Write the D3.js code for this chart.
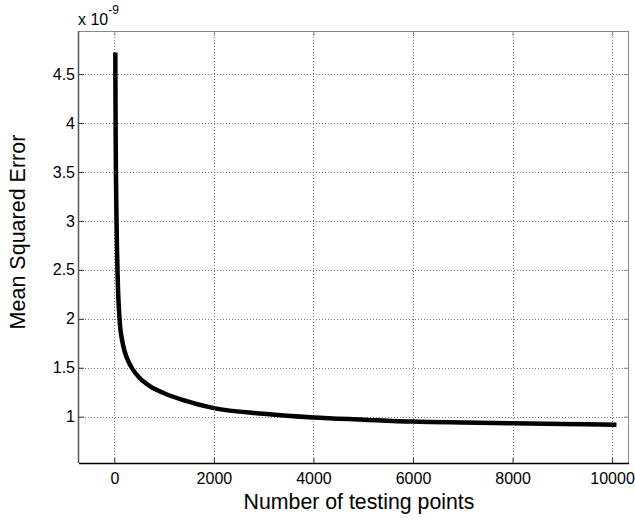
<!DOCTYPE html>
<html>
<head>
<meta charset="utf-8">
<script src="https://cdn.jsdelivr.net/npm/d3@7"></script>
<style>
  html, body { margin: 0; padding: 0; background: #fff; }
  svg { display: block; font-family: Arial, "Liberation Sans", Helvetica, sans-serif; }
</style>
</head>
<body>
<svg id="chart" width="635" height="520"></svg>
<script>
// Data
const testingPoints = [20, 22, 25, 30, 34, 44, 54, 64, 74, 90, 114, 150, 200, 260, 349, 500, 719, 1000, 1386, 2000, 3000, 4000, 5000, 6000, 7000, 8000, 9000, 10088];
const mseValues     = [4.72, 4.4, 4.0, 3.6, 3.4, 3.0, 2.7, 2.48, 2.3, 2.12, 1.93, 1.8, 1.68, 1.59, 1.5, 1.4, 1.31, 1.24, 1.17, 1.088, 1.03, 0.992, 0.97, 0.95, 0.94, 0.932, 0.925, 0.918];
const xTicks = [0, 2000, 4000, 6000, 8000, 10000];
const yTicks = [1, 1.5, 2, 2.5, 3, 3.5, 4, 4.5];
const xLimits = [-710, 10340];
const yLimits = [0.527, 4.94];

const svg = d3.select("#chart");
const L = 79, R = 629, T = 31, B = 463;

const x = d3.scaleLinear().domain(xLimits).range([L, R]);
const y = d3.scaleLinear().domain(yLimits).range([B, T]);

// Grid lines (dotted)
const grid = svg.append("g");
grid.selectAll("line.gx").data(xTicks).enter().append("line")
  .attr("x1", d => Math.round(x(d)) + 0.5).attr("x2", d => Math.round(x(d)) + 0.5)
  .attr("y1", T).attr("y2", B)
  .attr("stroke", "#777").attr("stroke-width", 1).attr("stroke-dasharray", "1,2");
grid.selectAll("line.gy").data(yTicks).enter().append("line")
  .attr("y1", d => Math.round(y(d)) + 0.5).attr("y2", d => Math.round(y(d)) + 0.5)
  .attr("x1", L).attr("x2", R)
  .attr("stroke", "#777").attr("stroke-width", 1).attr("stroke-dasharray", "1,2");

// Axes via d3 (ticks inside)
const xAxis = d3.axisBottom(x).tickValues(xTicks).tickSize(-5).tickPadding(10).tickFormat(d3.format("d"));
const yAxis = d3.axisLeft(y).tickValues(yTicks).tickSize(-5).tickPadding(4).tickFormat(d => String(d));
const xAxisTop = d3.axisTop(x).tickValues(xTicks).tickSize(-5).tickFormat("");
const yAxisRight = d3.axisRight(y).tickValues(yTicks).tickSize(-5).tickFormat("");

function styleAxis(g, color) {
  g.select(".domain").remove();
  g.selectAll(".tick line").attr("stroke", color);
  g.selectAll(".tick text").attr("fill", "#000").style("font-size", "16px").style("font-family", "Arial, 'Liberation Sans', sans-serif");
}

svg.append("g").attr("transform", `translate(0,${B})`).call(xAxis).call(g => styleAxis(g, "#333"));
svg.append("g").attr("transform", `translate(${L},0)`).call(yAxis).call(g => styleAxis(g, "#333"));
svg.append("g").attr("transform", `translate(0,${T})`).call(xAxisTop).call(g => styleAxis(g, "#888"));
svg.append("g").attr("transform", `translate(${R},0)`).call(yAxisRight).call(g => styleAxis(g, "#888"));

// Box
svg.append("line").attr("x1", L).attr("x2", R).attr("y1", T + 0.5).attr("y2", T + 0.5).attr("stroke", "#888");
svg.append("line").attr("x1", R - 0.5).attr("x2", R - 0.5).attr("y1", T).attr("y2", B).attr("stroke", "#888");
svg.append("line").attr("x1", L).attr("x2", R).attr("y1", B + 0.5).attr("y2", B + 0.5).attr("stroke", "#000").attr("stroke-width", 1.5);
svg.append("line").attr("x1", L - 0.5).attr("x2", L - 0.5).attr("y1", T).attr("y2", B).attr("stroke", "#555").attr("stroke-width", 1.5);

// Data line
const data = testingPoints.map((d, i) => ({ x: d, y: mseValues[i] }));
svg.append("path").datum(data)
  .attr("fill", "none").attr("stroke", "#000").attr("stroke-width", 4.5)
  .attr("stroke-linejoin", "round")
  .attr("d", d3.line().x(d => x(d.x)).y(d => y(d.y)).curve(d3.curveMonotoneX));

// Exponent label
const expo = svg.append("text").attr("x", 78).attr("y", 25)
  .style("font-size", "16px").attr("fill", "#000");
expo.append("tspan").text("x 10");
expo.append("tspan").attr("dy", -11).style("font-size", "12px").text("-9");

// Axis titles
svg.append("text").attr("x", 359).attr("y", 509).attr("text-anchor", "middle")
  .style("font-size", "21.3px").attr("fill", "#000").text("Number of testing points");
svg.append("text").attr("transform", `translate(25,232) rotate(-90)`)
  .attr("text-anchor", "middle").style("font-size", "21.5px").attr("fill", "#000").text("Mean Squared Error");
</script>
</body>
</html>
